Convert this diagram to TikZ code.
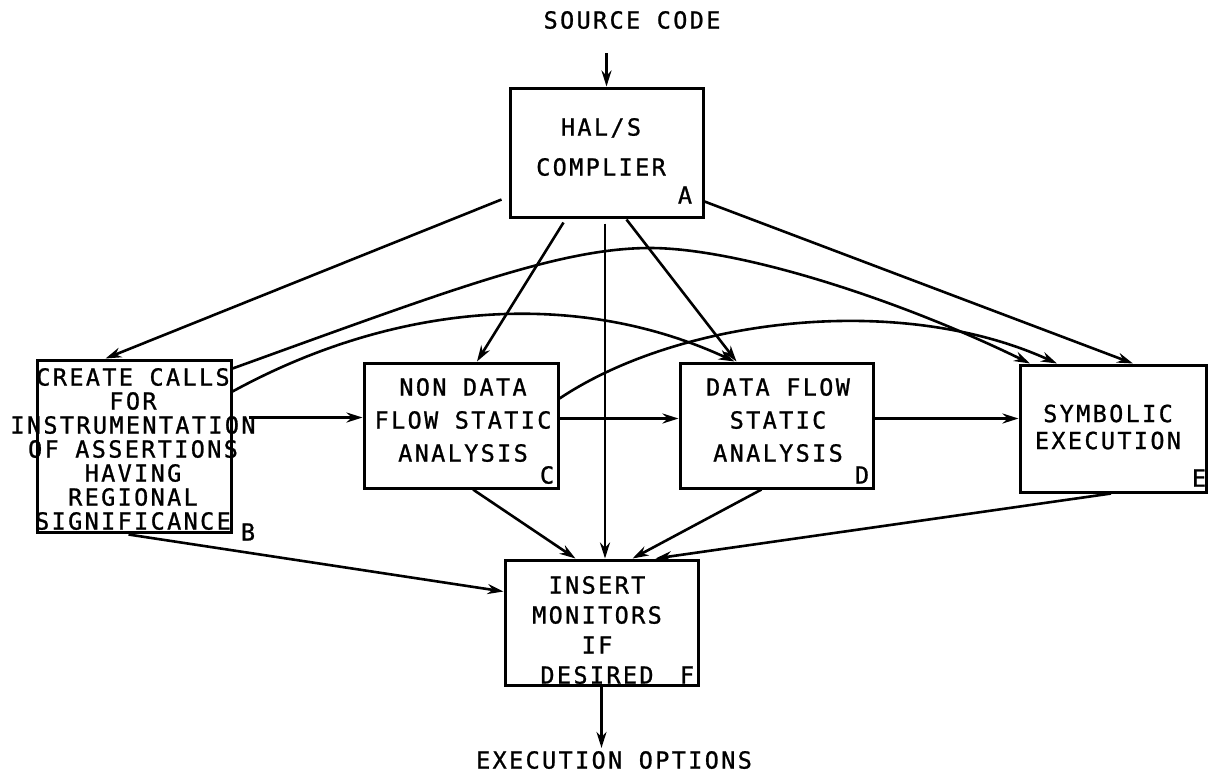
\documentclass[tikz,border=0pt]{standalone}
\usepackage{fontspec}
\usetikzlibrary{arrows.meta,calc}
\newfontfamily\tw{DejaVu Sans Mono}[LetterSpace=10,FakeBold=1]
\begin{document}
\begin{tikzpicture}[x=1pt,y=-1pt,
  box/.style={draw, line width=3pt, inner sep=0pt},
  txt/.style={font=\tw\fontsize{23.5}{#1}\selectfont, align=center, inner sep=0pt},
  txt/.default=24,
  arr/.style={line width=2.6pt, -{Stealth[length=16pt,width=10pt]}}
]
\path[use as bounding box] (0,0) rectangle (1209,780);
% boxes
\node[box, minimum width=193pt, minimum height=129pt] (A) at (606.5,152.5) {};
\node[box, minimum width=194pt, minimum height=172pt] (B) at (134,446) {};
\node[box, minimum width=194pt, minimum height=125pt] (C) at (461,425.5) {};
\node[box, minimum width=193pt, minimum height=125pt] (D) at (776.5,425.5) {};
\node[box, minimum width=186pt, minimum height=127pt] (E) at (1113,428.5) {};
\node[box, minimum width=193pt, minimum height=125pt] (F) at (601.5,622.5) {};
% texts
\node[txt=40] (At) at (601,147) {HAL/S\\COMPLIER};
\node[txt=24] (Bt) at (133,449) {CREATE CALLS\\FOR\\INSTRUMENTATION\\OF ASSERTIONS\\HAVING\\REGIONAL\\SIGNIFICANCE};
\node[txt=33] (Ct) at (463,420) {NON DATA\\FLOW STATIC\\ANALYSIS};
\node[txt=33] (Dt) at (778,420) {DATA FLOW\\STATIC\\ANALYSIS};
\node[txt=27] (Et) at (1108,427) {SYMBOLIC\\EXECUTION};
\node[txt=30] (Ft) at (597,630) {INSERT\\MONITORS\\IF\\DESIRED};
\node[txt] (src) at (632,20) {SOURCE CODE};
\node[txt] (exe) at (614,760) {EXECUTION OPTIONS};
% letters
\node[txt] (la) at (685,195) {A};
\node[txt] (lb) at (248,532) {B};
\node[txt] (lc) at (547,475) {C};
\node[txt] (ld) at (862,475) {D};
\node[txt] (le) at (1199,478) {E};
\node[txt] (lf) at (687,675) {F};
% connectors
\draw[arr, shorten <=24pt] (A.north |- src.south) -- (A.north);
\draw[arr] ($(A.south west)+(-7,-19)$) -- ($(B.north west)+(70,0)$);
\draw[arr] ($(A.south west)+(55,4)$) -- ([xshift=16pt]C.north);
\coordinate (a1) at ($(A.south)+(-1.5,5)$);
\draw[arr] (a1) -- (a1 |- F.north);
\draw[arr] ($(A.south)+(20,1)$) -- ([xshift=-40pt]D.north);
\draw[arr] ($(A.south east)+(0,-17)$) -- ([xshift=20pt]E.north);
\draw[arr] ($(B.north east)+(0,10)$) .. controls (450,290) and (560,248) .. (650,248)
   .. controls (740,248) and (900,300) .. ([xshift=-83pt]E.north);
\draw[arr] ($(B.north east)+(0,33)$) .. controls (400,300) and (580,290) .. ([xshift=-42pt]D.north);
\draw[arr] ($(C.north east)+(0,37)$) .. controls (680,318) and (900,292) .. ([xshift=-56pt]E.north);
\draw[arr] ($(B.north east)+(16,59)$) -- ($(C.north west)+(0,56)$);
\draw[arr] ($(C.north east)+(0,57)$) -- ($(D.north west)+(0,57)$);
\draw[arr] ($(D.north east)+(0,57)$) -- ($(E.north west)+(0,55)$);
\draw[arr] ($(B.south west)+(93,1)$) -- ($(F.north west)+(0,33)$);
\draw[arr] ([xshift=12pt]C.south) -- ([xshift=-26pt]F.north);
\draw[arr] ([xshift=-15pt]D.south) -- ([xshift=31pt]F.north);
\draw[arr] ([xshift=-2pt]E.south) -- ([xshift=54pt]F.north);
\draw[arr, shorten >=3pt] (F.south) -- (F.south |- exe.north);
\end{tikzpicture}
\end{document}
